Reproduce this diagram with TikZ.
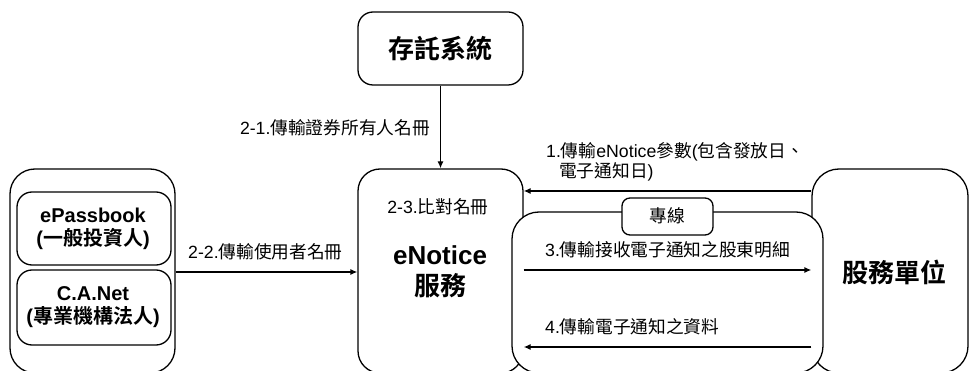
\documentclass[tikz,border=0pt]{standalone}
\usepackage{fontspec}
\setmainfont{Liberation Sans}
\newfontfamily\cjk{Noto Sans CJK TC}[BoldFont={* Bold}]
\newcommand{\zh}[1]{{\cjk #1}}
\usetikzlibrary{arrows.meta}
\begin{document}
\begin{tikzpicture}[x=1pt,y=-1pt,
  box/.style={draw, line width=1.3pt, fill=white, rectangle, inner sep=0pt},
  arr/.style={draw, line width=1.3pt, -{Latex[length=7pt,width=6pt]}},
  lbl/.style={inner sep=0pt, font=\fontsize{17.7}{20}\selectfont},
  big/.style={inner sep=0pt, align=center, font=\fontsize{26}{30}\selectfont\bfseries},
  mid/.style={inner sep=0pt, align=center, font=\fontsize{20}{23}\selectfont\bfseries}]
\useasboundingbox (0,0) rectangle (969,371);
\clip (0,0) rectangle (969,371);
% boxes
\node[box, rounded corners=15pt, minimum width=165pt, minimum height=73pt] (storage) at (440.5,48.5) {};
\node[box, rounded corners=22pt, minimum width=165pt, minimum height=204pt] (enotice) at (440.5,271) {};
\node[box, rounded corners=25pt, minimum width=165pt, minimum height=204pt] (left) at (92.5,271) {};
\node[box, rounded corners=15pt, minimum width=154pt, minimum height=73pt] (epass) at (94,228.5) {};
\node[box, rounded corners=15pt, minimum width=154pt, minimum height=75pt] (canet) at (94,307.5) {};
\node[box, rounded corners=27pt, minimum width=156pt, minimum height=204pt] (share) at (890,271) {};
\node[box, rounded corners=27pt, minimum width=311pt, minimum height=161pt] (line) at (667.5,292.5) {};
\node[box, rounded corners=8pt, minimum width=91pt, minimum height=37pt] (zx) at (667.5,216.5) {};
% box texts
\node[big] (tstorage) at (440.5,49) {\zh{存託系統}};
\node[big] (tenotice) at (440,272) {eNotice\\[1pt]\zh{服務}};
\node[lbl] (tcompare) at (438,207) {2-3.\zh{比對名冊}};
\node[mid] (tepass) at (93,228.5) {ePassbook\\(\zh{一般投資人})};
\node[mid] (tcanet) at (93,307.5) {C.A.Net\\(\zh{專業機構法人})};
\node[big] (tshare) at (894,272) {\zh{股務單位}};
\node[lbl] (tzx) at (667.5,216) {\zh{專線}};
% arrows
\draw[arr] (storage) -- (enotice);
\draw[arr] (share.west |- 0,191) -- (enotice.east |- 0,191);
\draw[arr] (left.east |- 0,272) -- (enotice.west |- 0,272);
\draw[arr] (enotice.east |- 0,270) -- (share.west |- 0,270);
\draw[arr] (share.west |- 0,347) -- (enotice.east |- 0,347);
% labels
\node[lbl, anchor=east] (l21) at (430,128) {2-1.\zh{傳輸證券所有人名冊}};
\node[lbl, anchor=west] (l1a) at (546,152) {1.\zh{傳輸}eNotice\zh{參數}(\zh{包含發放日、}};
\node[lbl, anchor=west] (l1b) at (559,172) {\zh{電子通知日})};
\node[lbl, anchor=west] (l22) at (188,252) {2-2.\zh{傳輸使用者名冊}};
\node[lbl, anchor=west] (l3) at (545,250) {3.\zh{傳輸接收電子通知之股東明細}};
\node[lbl, anchor=west] (l4) at (545,327) {4.\zh{傳輸電子通知之資料}};
\end{tikzpicture}
\end{document}
